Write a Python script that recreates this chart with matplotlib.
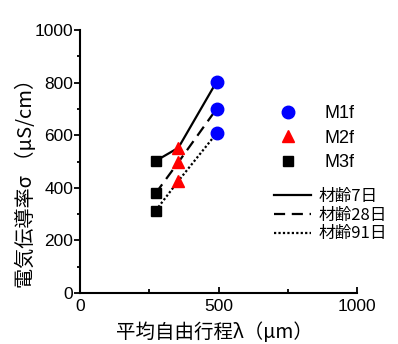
import matplotlib
matplotlib.use("Agg")
import matplotlib.pyplot as plt
from matplotlib.lines import Line2D

plt.rcParams['font.family'] = ['Liberation Sans', 'Noto Sans CJK JP', 'DejaVu Sans']

# data: mean free path (um) per mix, conductivity per age
mixes = ['M1f', 'M2f', 'M3f']
lam = {'M1f': 493, 'M2f': 355, 'M3f': 273}
ages = ['材齢7日', '材齢28日', '材齢91日']
sigma = {
    '材齢7日':  {'M1f': 803, 'M2f': 552, 'M3f': 502},
    '材齢28日': {'M1f': 700, 'M2f': 497, 'M3f': 379},
    '材齢91日': {'M1f': 607, 'M2f': 426, 'M3f': 313},
}
mix_style = {'M1f': ('o', 'blue', 9), 'M2f': ('^', 'red', 9), 'M3f': ('s', 'black', 7.5)}
age_style = {'材齢7日': '-', '材齢28日': (0, (5, 3)), '材齢91日': (0, (1, 1))}

cjk = ['Noto Sans CJK JP', 'DejaVu Sans']

fig = plt.figure(figsize=(3.98, 3.44), dpi=100)
ax = fig.add_axes([80/398, 51/344, 277/398, 263/344])

order = ['M3f', 'M2f', 'M1f']
for a in ages:
    xs = [lam[m] for m in order]
    ys = [sigma[a][m] for m in order]
    ax.plot(xs, ys, color='black', lw=1.6, linestyle=age_style[a], zorder=2)
for m in mixes:
    mk, c, ms = mix_style[m]
    ax.plot([lam[m]]*3, [sigma[a][m] for a in ages], linestyle='none',
            marker=mk, color=c, markersize=ms, zorder=3)

ax.set_xlim(0, 1000)
ax.set_ylim(0, 1000)
ax.set_xticks([0, 500, 1000])
ax.set_xticks([250, 750], minor=True)
ax.set_yticks(range(0, 1001, 200))
ax.set_yticks(range(100, 1000, 200), minor=True)
for s in ['top', 'right']:
    ax.spines[s].set_visible(False)
for s in ['left', 'bottom']:
    ax.spines[s].set_linewidth(1.5)
ax.tick_params(axis='x', which='major', direction='in', length=4, width=1.3, labelsize=12.5, pad=4)
ax.tick_params(axis='x', which='minor', direction='in', length=3, width=1.3)
ax.tick_params(axis='y', which='major', direction='out', length=4, width=1.3, labelsize=12.5, pad=1)
ax.tick_params(axis='y', which='minor', direction='out', length=2, width=1.3)

fig.text(26/398, 1 - 178/344, '電気伝導率σ （μS/cm）', rotation=90, ha='center', va='center',
         fontsize=14.5, family=cjk)
fig.text(214/398, 1 - 333/344, '平均自由行程λ（μm）', ha='center', va='center',
         fontsize=14, family=cjk)

h1 = [Line2D([], [], linestyle='none', marker=mix_style[m][0], color=mix_style[m][1],
             markersize=mix_style[m][2]) for m in mixes]
leg1 = fig.legend(h1, mixes, loc='upper left', bbox_to_anchor=(270/398, 1 - 105/344),
                  frameon=False, handletextpad=1.0, labelspacing=0.42,
                  borderpad=0, borderaxespad=0,
                  prop={'family': ['Liberation Sans'], 'size': 13})
h2 = [Line2D([], [], color='black', lw=1.6, linestyle=age_style[a]) for a in ages]
leg2 = fig.legend(h2, ages, loc='upper left', bbox_to_anchor=(274/398, 1 - 188/344),
                  frameon=False, handlelength=2.2, handletextpad=0.5,
                  labelspacing=0.1, borderpad=0, borderaxespad=0,
                  prop={'family': cjk, 'size': 12})

fig.savefig('out.png', dpi=100)
